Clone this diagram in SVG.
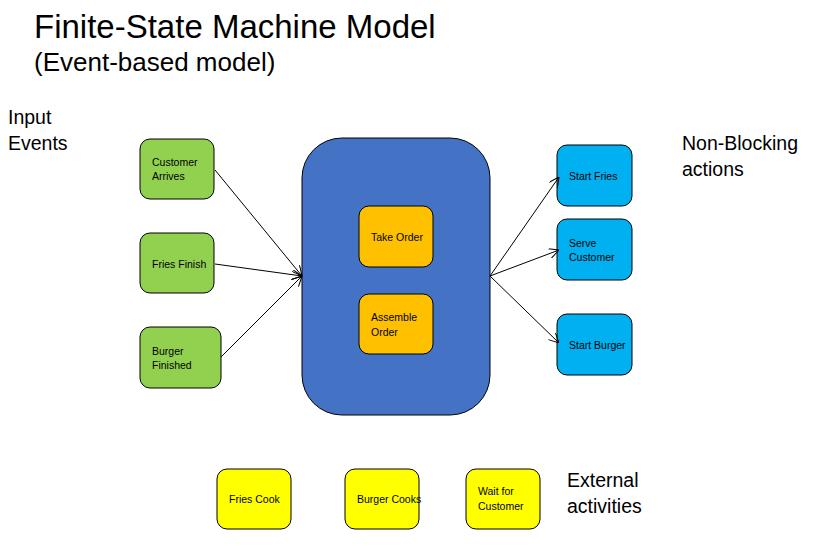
<svg xmlns="http://www.w3.org/2000/svg" width="813" height="546" viewBox="0 0 813 546">
<defs>
<marker id="arr" viewBox="0 0 10 10" refX="10" refY="5" markerWidth="10" markerHeight="10" markerUnits="userSpaceOnUse" orient="auto">
<path d="M0,0 L10,5 L0,10" fill="none" stroke="#000" stroke-width="1"/>
</marker>
<style>
text{font-family:"Liberation Sans",Arial,sans-serif;fill:#000}
.n{font-size:10.5px}
.lbl{font-size:19.5px}
.box{stroke:#000;stroke-width:1}
.g{fill:#92d050}.b{fill:#00b0f0}.o{fill:#ffc000}.y{fill:#ffff00}
.c line{stroke:#000;stroke-width:1;marker-end:url(#arr)}
</style>
</defs>
<rect width="813" height="546" fill="#fff"/>
<text x="34" y="38" font-size="33">Finite-State Machine Model</text>
<text x="34" y="71" font-size="26">(Event-based model)</text>
<text class="lbl" x="8" y="124">Input</text>
<text class="lbl" x="8" y="150">Events</text>
<text class="lbl" x="682" y="150">Non-Blocking</text>
<text class="lbl" x="682" y="176">actions</text>
<text class="lbl" x="567" y="487">External</text>
<text class="lbl" x="567" y="513">activities</text>

<g id="fsm"><rect class="box" x="302" y="138" width="188" height="277" rx="40" fill="#4472c4"/></g>
<g id="take-order"><rect class="box o" x="359" y="206" width="74" height="61" rx="10"/><text class="n" x="371" y="241">Take Order</text></g>
<g id="assemble-order"><rect class="box o" x="359" y="294" width="74" height="60" rx="10"/><text class="n" x="371" y="321">Assemble</text><text class="n" x="371" y="336">Order</text></g>

<g id="customer-arrives"><rect class="box g" x="140" y="139" width="74" height="60" rx="10"/><text class="n" x="152" y="166">Customer</text><text class="n" x="152" y="180">Arrives</text></g>
<g id="fries-finish"><rect class="box g" x="140" y="233" width="74" height="60" rx="10"/><text class="n" x="152" y="268">Fries Finish</text></g>
<g id="burger-finished"><rect class="box g" x="140" y="327" width="81" height="61" rx="10"/><text class="n" x="152" y="355">Burger</text><text class="n" x="152" y="369">Finished</text></g>

<g id="start-fries"><rect class="box b" x="557" y="145" width="75" height="61" rx="10"/><text class="n" x="569" y="180">Start Fries</text></g>
<g id="serve-customer"><rect class="box b" x="557" y="219" width="75" height="61" rx="10"/><text class="n" x="569" y="247">Serve</text><text class="n" x="569" y="261">Customer</text></g>
<g id="start-burger"><rect class="box b" x="557" y="314" width="75" height="61" rx="10"/><text class="n" x="569" y="349">Start Burger</text></g>

<g id="fries-cook"><rect class="box y" x="217" y="469" width="74" height="60" rx="10"/><text class="n" x="229" y="503">Fries Cook</text></g>
<g id="burger-cooks"><rect class="box y" x="345" y="469" width="74" height="60" rx="10"/><text class="n" x="357" y="503">Burger Cooks</text></g>
<g id="wait-for-customer"><rect class="box y" x="466" y="469" width="74" height="60" rx="10"/><text class="n" x="478" y="495">Wait for</text><text class="n" x="478" y="510">Customer</text></g>

<g class="c" id="connectors">
<line x1="215" y1="170" x2="302" y2="276"/>
<line x1="215" y1="264" x2="302" y2="276"/>
<line x1="221" y1="357" x2="302" y2="276"/>
<line x1="490" y1="276" x2="559" y2="177"/>
<line x1="490" y1="276" x2="559" y2="250"/>
<line x1="490" y1="276" x2="559" y2="343"/>
</g>
</svg>
